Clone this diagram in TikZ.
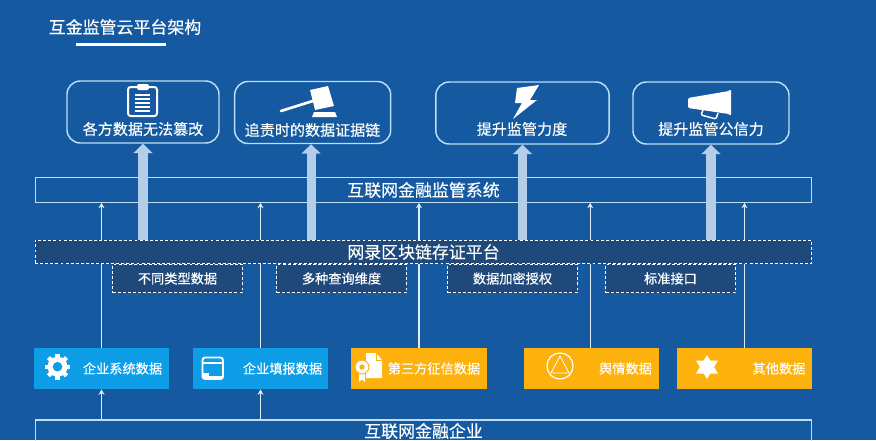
\documentclass[tikz,border=0pt]{standalone}
\usepackage{fontspec}
\setmainfont[FakeBold=0.3]{Noto Sans CJK SC}
\usetikzlibrary{arrows.meta}
\definecolor{bgblue}{RGB}{21,90,160}
\definecolor{darkbar}{RGB}{32,73,123}
\definecolor{skybox}{RGB}{14,158,232}
\definecolor{amberbox}{RGB}{253,177,12}
\definecolor{paleline}{RGB}{190,222,246}
\definecolor{palearrow}{RGB}{180,205,232}

\begin{document}
\begin{tikzpicture}[x=0.75pt,y=-0.75pt,>={Stealth[length=4pt,width=4.5pt]}]
  \tikzstyle{goal}=[draw=paleline,line width=1.1pt,rounded corners=10pt,minimum height=46.5pt]
  \tikzstyle{goal text}=[text=white,font=\fontsize{11.3}{13}\selectfont,inner sep=0pt]
  \tikzstyle{bar}=[draw=paleline,line width=.8pt,minimum width=582.5pt,text=white,
                   font=\fontsize{12.7}{15}\selectfont,inner sep=0pt]
  \tikzstyle{dash bar}=[bar,fill=darkbar,draw=white,dash pattern=on 2.2pt off 1.6pt]
  \tikzstyle{sub}=[fill=darkbar,draw=white,line width=.7pt,dash pattern=on 2.2pt off 1.6pt,
                   minimum width=97pt,minimum height=21.5pt,inner sep=0pt,text=white,
                   font=\fontsize{9.9}{12}\selectfont]
  \tikzstyle{data}=[minimum width=101.5pt,minimum height=31pt,inner sep=0pt]
  \tikzstyle{data text}=[text=white,font=\fontsize{9.9}{12}\selectfont,inner sep=0pt]
  \tikzstyle{thin}=[->,line width=.9pt,draw=paleline!50!white,fill=paleline!50!white]
  \tikzstyle{thick}=[-{Triangle[length=7pt,width=14pt]},palearrow,line width=6.8pt]
  \tikzstyle{icon}=[white,fill=white,line join=round]

  \clip (0,0) rectangle (876,440);
  \fill [bgblue] (0,0) rectangle (876,440);

  \node [text=white,font=\fontsize{12.7}{15}\selectfont,inner sep=0pt] (title) at (125,27) {互金监管云平台架构};
  \node [fill=white,minimum width=67.5pt,minimum height=1.6pt,inner sep=0pt] (rule) at (121,44.5) {};

  \node [goal,minimum width=114pt] (g1) at (143,112) {};
  \node [goal,minimum width=117pt] (g2) at (312.7,112.5) {};
  \node [goal,minimum width=130pt] (g3) at (522.5,113) {};
  \node [goal,minimum width=117pt] (g4) at (711,113) {};
  \node [goal text] (g1t) at (143,129) {各方数据无法篡改};
  \node [goal text] (g2t) at (312.5,130) {追责时的数据证据链};
  \node [goal text] (g3t) at (522,129) {提升监管力度};
  \node [goal text] (g4t) at (711,129) {提升监管公信力};

  \node [bar,minimum height=18.5pt] (sys) at (423.5,190) {互联网金融监管系统};

  \node [data,fill=skybox] (d1) at (101.5,368.5) {};
  \node [data,fill=skybox] (d2) at (260.5,368.5) {};
  \node [data,fill=amberbox] (d3) at (419,368.5) {};
  \node [data,fill=amberbox] (d4) at (591.5,368.5) {};
  \node [data,fill=amberbox] (d5) at (744.5,368.5) {};
  \node [data text] (d1t) at (122.5,368.5) {企业系统数据};
  \node [data text] (d2t) at (282.5,368.5) {企业填报数据};
  \node [data text] (d3t) at (434,368.5) {第三方征信数据};
  \node [data text] (d4t) at (625.5,368.5) {舆情数据};
  \node [data text] (d5t) at (779,368.5) {其他数据};

  \node [bar,minimum height=16.5pt] (firm) at (423.5,431) {互联网金融企业};

  \draw [thin] (d1.north) -- (d1.north |- sys.south);
  \draw [thin] (d2.north) -- (d2.north |- sys.south);
  \draw [thin] (d3.north) -- (d3.north |- sys.south);
  \draw [thin] ([xshift=-1pt]d4.north) -- ([xshift=-1pt]d4.north |- sys.south);
  \draw [thin] (d5.north) -- (d5.north |- sys.south);
  \draw [thin] (d1.south |- firm.north) -- (d1.south);
  \draw [thin] (d2.south |- firm.north) -- (d2.south);

  \node [dash bar,minimum height=17.5pt] (chain) at (423.5,252) {网录区块链存证平台};
  \node [sub] (s1) at (177.5,278.5) {不同类型数据};
  \node [sub] (s2) at (341.5,278.5) {多种查询维度};
  \node [sub] (s3) at (512.5,278.5) {数据加密授权};
  \node [sub] (s4) at (670.5,278.5) {标准接口};

  \draw [thick] (g1.south |- chain.north) -- (g1.south);
  \draw [thick] ([xshift=-1.2pt]g2.south |- chain.north) -- ([xshift=-1.2pt]g2.south);
  \draw [thick] (g3.south |- chain.north) -- (g3.south);
  \draw [thick] (g4.south |- chain.north) -- (g4.south);

  \draw [white,line width=1.5pt,rounded corners=2pt] (128,87) rectangle (157,116);
  \fill [white,rounded corners=1.5pt] (137,84) rectangle (149,90);
  \foreach \y in {95,99,103,107,111}
    \draw [white,line width=1pt] (135,\y) -- (150,\y);

  \draw [white,line width=2pt,line cap=round] (281,111) -- (316,100);
  \fill [icon] (310,90) -- (328,86) -- (334,106) -- (315,110) -- cycle;
  \fill [icon] (312,117) -- (314,112) -- (335,112) -- (337,117) -- cycle;

  \fill [icon] (517,88) -- (539,85) -- (530,100) -- (537,100) -- (513,119)
    -- (522,103) -- (515,103) -- cycle;

  \fill [icon,rounded corners=1pt] (688,98) -- (729,91) -- (731,89) -- (731,116) -- (729,114) -- (688,108) -- cycle;
  \draw [white,line width=1.1pt,rounded corners=1pt] (703,110) -- (701,115) -- (716,119) -- (718,113);

  \fill [white] (57.5,366.7) circle (7.5pt);
  \foreach \a in {0,45,...,315}
    \draw [white,line width=3.2pt] (57.5,366.7) -- ++(\a:9.6pt);
  \fill [skybox] (57.5,366.7) circle (3.6pt);

  \draw [white,line width=1.4pt,rounded corners=2pt] (202.5,357.5) rectangle (223,379);
  \draw [white,line width=1.2pt] (203,363) -- (223,363);
  \fill [white] (203,376) -- (223,376) -- (223,378) -- (203,378) -- cycle;
  \fill [white] (203,373) rectangle (209,377);

  \fill [icon] (366,353) -- (376,353) -- (382,360) -- (382,378) -- (366,378) -- cycle;
  \draw [amberbox,line width=.7pt] (376,353) -- (376,360) -- (382,360);
  \fill [white] (359,372) -- (359,382) -- (362,379.5) -- (365,382) -- (365,372) -- cycle;
  \fill [white,draw=amberbox,line width=.7pt] (362,367) circle (5.2pt);
  \fill [amberbox] (362,367) circle (2pt);

  \draw [white,line width=.9pt] (560,366) circle (9.8pt);
  \draw [white,line width=.6pt] (560,356) -- (551,373) -- (569,373) -- cycle;

  \fill [white] (707,355) -- (718,373.5) -- (696,373.5) -- cycle;
  \fill [white] (707,379) -- (718,360.5) -- (696,360.5) -- cycle;
\end{tikzpicture}
\end{document}
